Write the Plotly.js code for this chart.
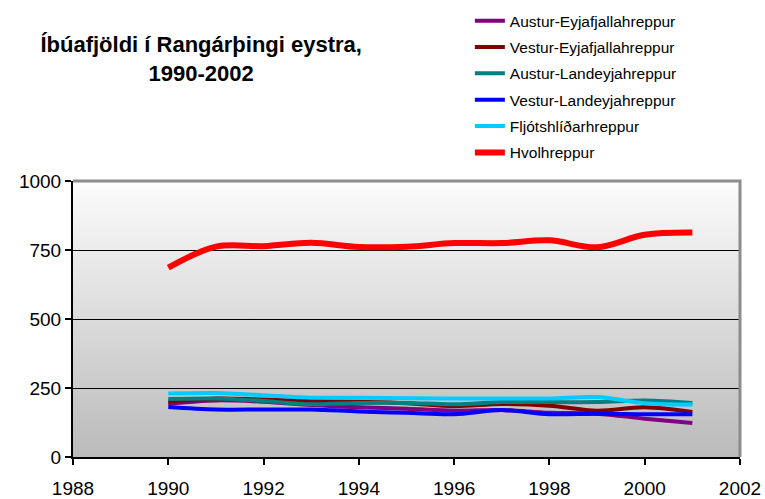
<!DOCTYPE html>
<html>
<head>
<meta charset="utf-8">
<script src="https://cdn.plot.ly/plotly-3.0.1.min.js"></script>
<style>html,body{margin:0;padding:0;background:#fff;}#chart{width:765px;height:499px;}</style>
</head>
<body>
<div id="chart"></div>
<script>
const years = [1990, 1991, 1992, 1993, 1994, 1995, 1996, 1997, 1998, 1999, 2000, 2001];
const seriesNames = ['Austur-Eyjafjallahreppur', 'Vestur-Eyjafjallahreppur', 'Austur-Landeyjahreppur', 'Vestur-Landeyjahreppur', 'Fljótshlíðarhreppur', 'Hvolhreppur'];
const austurEyjafjalla = [193, 205, 200, 188, 180, 175, 168, 170, 160, 157, 139, 123];
const vesturEyjafjalla = [200, 212, 208, 203, 200, 195, 184, 192, 186, 168, 180, 163];
const austurLandeyja = [210, 212, 203, 191, 196, 196, 191, 199, 199, 199, 205, 196];
const vesturLandeyja = [181, 172, 172, 172, 165, 160, 155, 170, 155, 157, 155, 155];
const fljotshlid = [230, 232, 224, 215, 215, 213, 212, 212, 212, 217, 195, 190];
const hvolhreppur = [686, 762, 764, 776, 761, 762, 775, 775, 785, 760, 805, 813];
const yTicks = [0, 250, 500, 750, 1000];
const xTicks = [1988, 1990, 1992, 1994, 1996, 1998, 2000, 2002];

const values = [austurEyjafjalla, vesturEyjafjalla, austurLandeyja, vesturLandeyja, fljotshlid, hvolhreppur];
const colors = ['#800080', '#800000', '#008080', '#0000ff', '#00ccff', '#ff0000'];
const widths = [4, 4, 4, 4, 4, 6];

const traces = values.map((v, i) => ({
  type: 'scatter', mode: 'lines', x: years, y: v, name: seriesNames[i],
  legendgroup: 'g' + i,
  line: {color: colors[i], width: widths[i], shape: 'spline', smoothing: 1}
}));

const grad = 'data:image/svg+xml;utf8,' + encodeURIComponent(
  '<svg xmlns="http://www.w3.org/2000/svg" width="10" height="100" viewBox="0 0 10 100" preserveAspectRatio="none">' +
  '<defs><linearGradient id="g" x1="0" y1="0" x2="0" y2="1">' +
  '<stop offset="0" stop-color="#fcfcfc"/><stop offset="1" stop-color="#bababa"/></linearGradient></defs>' +
  '<rect width="10" height="100" fill="url(#g)"/></svg>');

const font = 'Liberation Sans, Arial, sans-serif';
const layout = {
  width: 765, height: 499,
  margin: {l: 73, r: 25, t: 181, b: 42, pad: 0, autoexpand: false},
  paper_bgcolor: '#ffffff', plot_bgcolor: 'rgba(0,0,0,0)',
  font: {family: font, color: '#000000'},
  title: {
    text: '<b>Íbúafjöldi í Rangárþingi eystra,<br>1990-2002</b>',
    font: {family: font, size: 22, color: '#000000'},
    xref: 'container', yref: 'container', x: 0.263, xanchor: 'center', y: 0.895, yanchor: 'middle'
  },
  xaxis: {
    range: [1988, 2002], tickvals: xTicks, ticktext: xTicks.map(String),
    showgrid: false, zeroline: false, showline: true, linecolor: '#000000', linewidth: 2,
    ticks: 'outside', ticklen: 6, tickwidth: 2, tickcolor: '#000000',
    tickfont: {family: font, size: 19, color: '#000000'}, ticklabelstandoff: 7
  },
  yaxis: {
    range: [0, 1000], tickvals: yTicks, ticktext: yTicks.map(String),
    showgrid: true, gridcolor: '#000000', gridwidth: 1, zeroline: false,
    showline: true, linecolor: '#000000', linewidth: 2,
    ticks: 'outside', ticklen: 6, tickwidth: 2, tickcolor: '#000000',
    tickfont: {family: font, size: 19, color: '#000000'}
  },
  legend: {
    x: 0.595, xanchor: 'left', y: 1.641, yanchor: 'top',
    bgcolor: 'rgba(0,0,0,0)', borderwidth: 0,
    font: {family: font, size: 15.5, color: '#000000'},
    tracegroupgap: 3.2, traceorder: 'grouped'
  },
  images: [{source: grad, xref: 'paper', yref: 'paper', x: 0, y: 1, sizex: 1, sizey: 1,
            sizing: 'stretch', xanchor: 'left', yanchor: 'top', layer: 'below'}],
  shapes: [{type: 'path', xref: 'paper', yref: 'paper', path: 'M 0 1 L 1 1 L 1 0',
            line: {color: '#8c8c8c', width: 3}, layer: 'above'}],
  showlegend: true
};

Plotly.newPlot('chart', traces, layout, {displayModeBar: false, staticPlot: true});
</script>
</body>
</html>
